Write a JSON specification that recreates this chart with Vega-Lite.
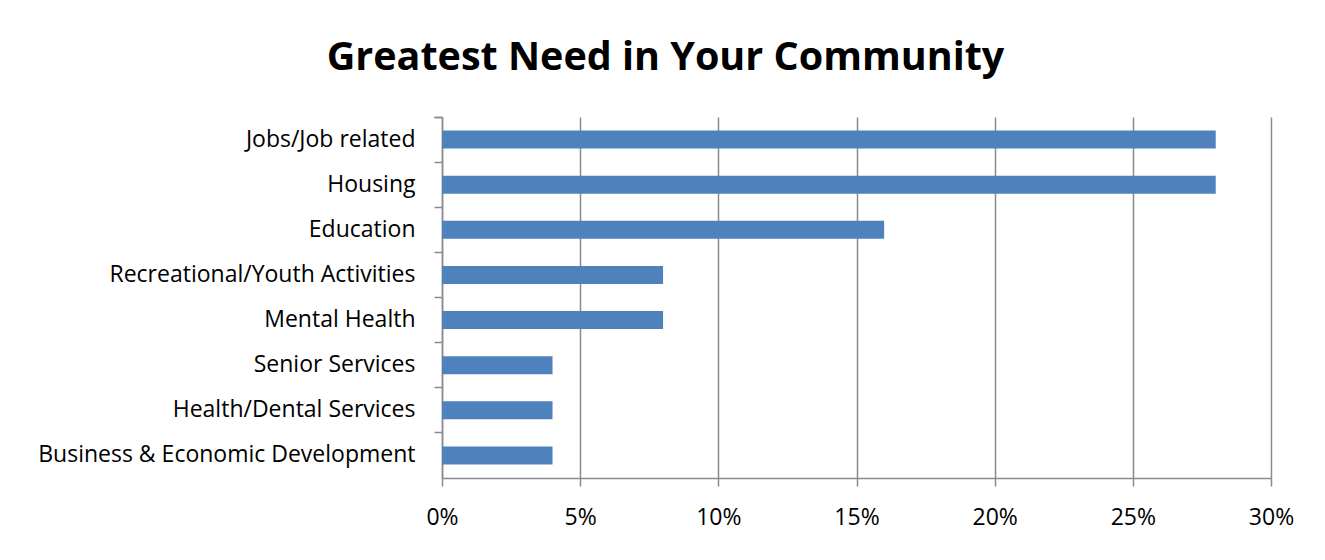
{
  "$schema": "https://vega.github.io/schema/vega-lite/v6.json",
  "width": 829,
  "height": 361,
  "autosize": {"type": "none"},
  "padding": {"left": 442, "top": 117, "right": 54, "bottom": 82},
  "background": "white",
  "title": {"text": "Greatest Need in Your Community", "font": "Open Sans", "fontSize": 39.5, "fontWeight": "bold", "color": "black", "anchor": "middle", "dx": -191, "baseline": "alphabetic", "offset": 45, "dy": 48},
  "data": {"values": [
    {"need": "Jobs/Job related", "pct": 0.28},
    {"need": "Housing", "pct": 0.28},
    {"need": "Education", "pct": 0.16},
    {"need": "Recreational/Youth Activities", "pct": 0.08},
    {"need": "Mental Health", "pct": 0.08},
    {"need": "Senior Services", "pct": 0.04},
    {"need": "Health/Dental Services", "pct": 0.04},
    {"need": "Business & Economic Development", "pct": 0.04}
  ]},
  "mark": {"type": "bar", "color": "#4f81bd", "height": {"band": 0.4}},
  "encoding": {
    "y": {"field": "need", "type": "nominal", "sort": null,
      "scale": {"paddingInner": 0, "paddingOuter": 0},
      "axis": {"title": null, "bandPosition": 0, "tickExtra": true, "tickSize": 8, "tickColor": "#8a8a8a", "tickWidth": 1.5, "domainColor": "#8a8a8a", "domainWidth": 1.5, "labelFont": "Open Sans", "labelFontSize": 23, "labelColor": "black", "labelPadding": 19, "labelLimit": 0, "grid": false}},
    "x": {"field": "pct", "type": "quantitative",
      "scale": {"domain": [0, 0.3], "nice": false},
      "axis": {"title": null, "format": "%", "values": [0, 0.05, 0.1, 0.15, 0.2, 0.25, 0.3], "grid": true, "gridColor": "#8a8a8a", "gridWidth": 1.5, "tickSize": 8, "tickColor": "#8a8a8a", "tickWidth": 1.5, "domainColor": "#8a8a8a", "domainWidth": 1.5, "labelFlush": false, "labelFont": "Open Sans", "labelFontSize": 23, "labelColor": "black", "labelPadding": 20}}
  },
  "config": {"view": {"stroke": null}}
}
